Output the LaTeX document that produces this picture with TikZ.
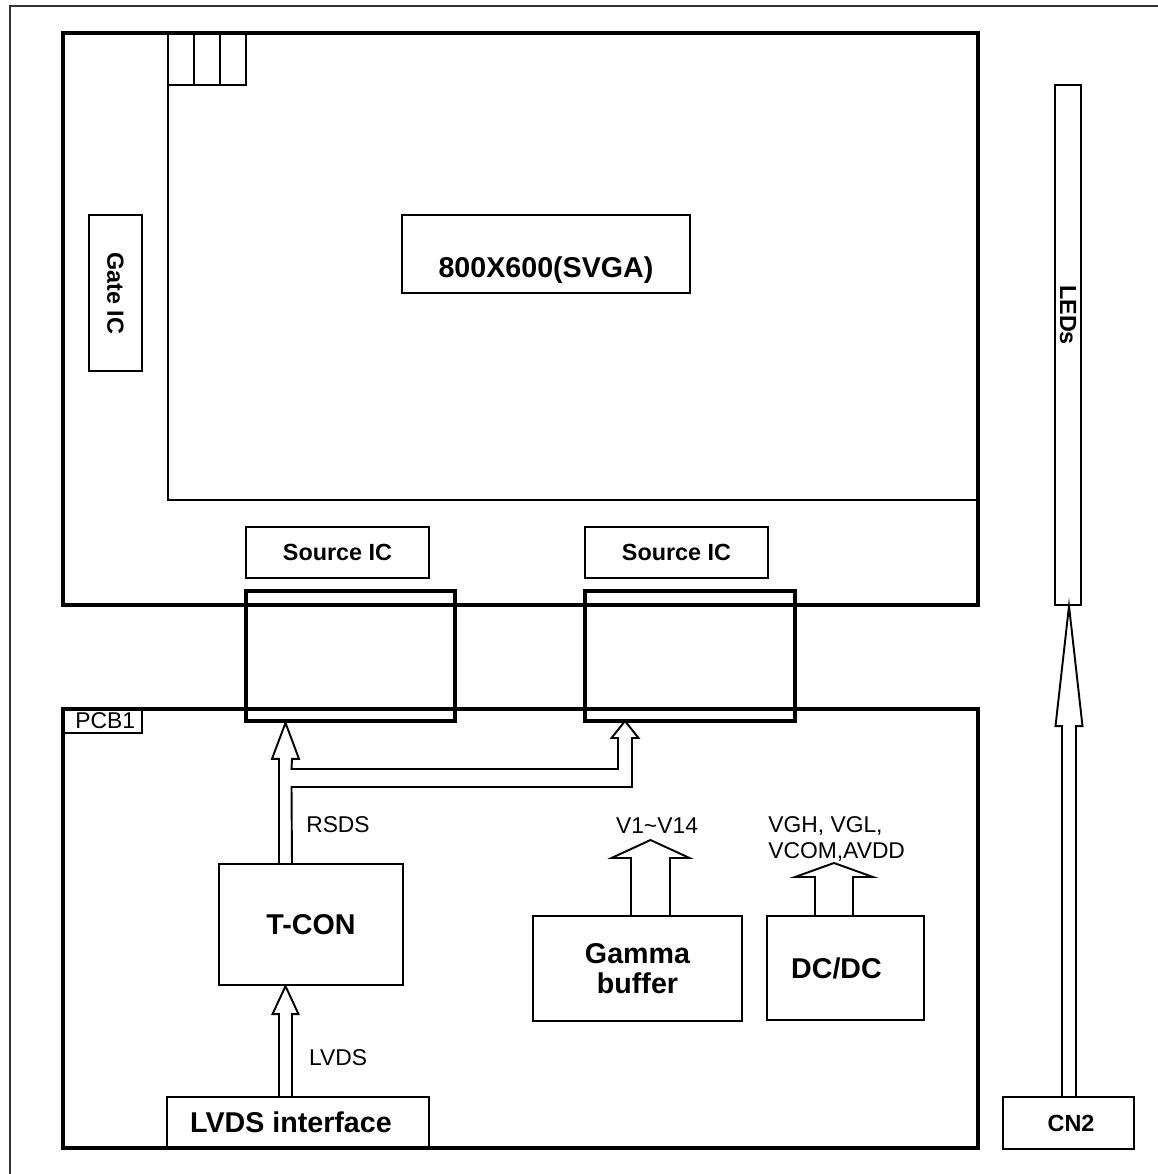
\documentclass[tikz,border=0pt]{standalone}
\usepackage{fontspec}
\setmainfont{Liberation Sans}
\usetikzlibrary{calc}

\tikzset{
    box/.style={draw, rectangle, inner sep=0pt, line width=1.3pt},
    heavybox/.style={draw, rectangle, inner sep=0pt, line width=2.1pt},
    bigtext/.style={font=\fontsize{16.3}{19}\selectfont\bfseries},
    midtext/.style={font=\fontsize{13.3}{16}\selectfont\bfseries},
    smalltext/.style={font=\fontsize{13}{14.8}\selectfont},
    arrowline/.style={line width=1.1pt, line join=miter}
}

% hollow upward arrow: from, tip, half shaft, half head, head length
\newcommand{\hollowup}[5]{%
    \draw[arrowline] ($(#1)+(-#3,0)$) -- ($(#2)+(-#3,#5)$) -- ($(#2)+(-#4,#5)$) -- (#2)
        -- ($(#2)+(#4,#5)$) -- ($(#2)+(#3,#5)$) -- ($(#1)+(#3,0)$);}

\begin{document}
\begin{tikzpicture}[x=0.02cm, y=-0.02cm]
    \useasboundingbox (0,0) rectangle (1158,1174);
    % frame
    \draw[line width=1.2pt, black!80] (10,1174) -- (10,6) -- (1158,6);

    % LCD panel
    \node[heavybox, minimum width=18.3cm, minimum height=11.44cm] (panel) at (520.5,319) {};
    \foreach \i in {0,1,2}
        \draw[line width=1.3pt] (168+26*\i,33) rectangle ++(26,52);
    \draw[line width=1.6pt] (168,85) -- (168,500) -- (978,500);
    \node[box, midtext, rotate=-90, minimum width=3.12cm, minimum height=1.06cm] (gate) at (115.5,293) {Gate IC};
    \node[box, minimum width=5.76cm, minimum height=1.56cm,
        label={[bigtext, yshift=-0.32cm]center:800X600(SVGA)}] (svga) at (546,254) {};
    \node[box, midtext, minimum width=3.66cm, minimum height=1.02cm] (src1) at (337.5,552.5) {Source IC};
    \node[box, midtext, minimum width=3.66cm, minimum height=1.02cm] (src2) at (676.5,552.5) {Source IC};

    % PCB
    \node[heavybox, minimum width=18.3cm, minimum height=8.78cm] (pcb) at (520.5,928.5) {};
    \node[draw, line width=1pt, inner sep=0pt, minimum width=1.58cm, minimum height=0.48cm, smalltext] (pcbtag) at (102.5,721) {\kern3pt PCB1};
    \node[heavybox, minimum width=4.18cm, minimum height=2.6cm] (flex1) at (350.5,656) {};
    \node[heavybox, minimum width=4.2cm, minimum height=2.6cm] (flex2) at (690,656) {};
    \node[box, bigtext, minimum width=5.24cm, minimum height=1.02cm] (lvds) at (298,1122.5) {LVDS interface\kern0.28cm};
    \node[box, bigtext, minimum width=3.68cm, minimum height=2.42cm] (tcon) at (311,924.5) {T-CON};
    \node[box, bigtext, align=center, minimum width=4.18cm, minimum height=2.1cm] (gamma) at (637.5,968.5) {Gamma\\[-2pt]buffer};
    \node[box, bigtext, minimum width=3.14cm, minimum height=2.08cm] (dcdc) at (845.5,968) {DC/DC\kern0.36cm};

    % backlight
    \node[box, minimum width=0.52cm, minimum height=10.4cm] (leds) at (1068,345) {};
    \node[midtext, rotate=-90] (ledstext) at (1068,315) {LEDs};
    \node[box, midtext, minimum width=2.62cm, minimum height=1.04cm] (cn2) at (1068.5,1123) {\kern0.1cm CN2};

    % buses
    \coordinate (lvdsout) at (285.5,1097);
    \coordinate (tconin) at (lvdsout |- tcon.south);
    \hollowup{lvdsout}{tconin}{6.5}{13}{28}
    \node[smalltext] (lvdslbl) at (338,1058) {LVDS};

    \coordinate (tconout) at (285.5,864);
    \coordinate (flexin) at (tconout |- flex1.south);
    \coordinate (flexintwo) at (625,721);
    \draw[arrowline] ($(tconout)+(-6.5,0)$) -- ($(flexin)+(-6.5,36)$) -- ($(flexin)+(-13.5,36)$) -- (flexin)
        -- ($(flexin)+(13.5,36)$) -- ($(flexin)+(6.5,36)$) -- (291.5,769) -- (618,769)
        -- ($(flexintwo)+(-7,17)$) -- ($(flexintwo)+(-13.5,17)$) -- (flexintwo)
        -- ($(flexintwo)+(13.5,17)$) -- ($(flexintwo)+(7,17)$) -- (632,787)
        -- (291.5,787) -- ($(tconout)+(6.5,0)$);
    \node[smalltext] (rsdslbl) at (338,825) {RSDS};

    \coordinate (gammaout) at (650.5,916);
    \coordinate (gammatip) at (650.5,840);
    \hollowup{gammaout}{gammatip}{19.5}{39}{18}
    \node[smalltext] (vlbl) at (657,826) {V1\char`\~V14};

    \coordinate (dcdcout) at (834,916);
    \coordinate (dcdctip) at (834,863);
    \hollowup{dcdcout}{dcdctip}{19}{39}{14}
    \node[smalltext, align=left, anchor=north west, inner sep=0pt] (dclbl) at (768,816) {VGH, VGL,\\VCOM,AVDD};

    \coordinate (cn2out) at (1069,1097);
    \coordinate (ledsin) at (cn2out |- leds.south);
    \hollowup{cn2out}{ledsin}{7}{13.5}{120}
\end{tikzpicture}
\end{document}
